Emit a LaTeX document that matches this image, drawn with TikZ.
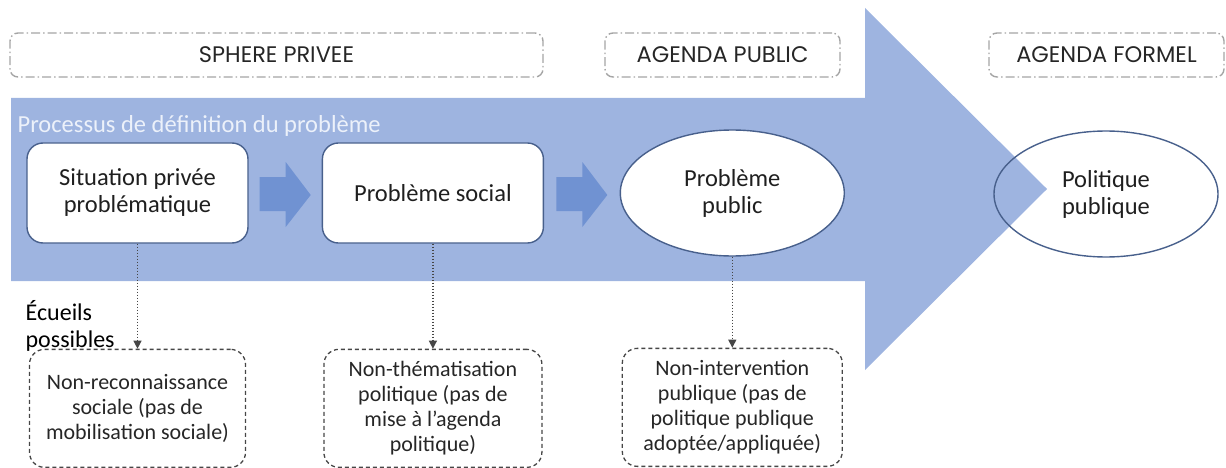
\documentclass[tikz,border=0pt]{standalone}
\usepackage{fontspec}
\setmainfont{Carlito}
\newfontfamily\headfont{Poppins}
\usetikzlibrary{arrows.meta,positioning,calc,shapes.geometric}
\definecolor{flowblue}{RGB}{158,180,224}
\definecolor{stepblue}{RGB}{112,146,210}
\definecolor{edgeblue}{RGB}{72,96,140}
\definecolor{headgray}{RGB}{165,165,165}
\definecolor{inkgray}{RGB}{70,70,70}
\definecolor{procwhite}{RGB}{236,241,250}
\tikzset{every picture/.style={line width=1.3pt}}
\tikzset{
  phase/.style={draw=headgray, line width=1.4pt, rounded corners=8pt,
    dash pattern=on 9pt off 3pt on 1.5pt off 3pt, minimum height=44pt,
    inner sep=0pt, text=black!85, font=\headfont\fontsize{22.5}{26}\selectfont},
  stagebox/.style={draw=edgeblue, fill=white, line width=1.4pt, rounded corners=16pt,
    minimum width=221pt, minimum height=100pt, align=center, text=black!88,
    font=\fontsize{24.5}{27}\selectfont},
  stageoval/.style={ellipse, draw=edgeblue, line width=1.4pt, minimum width=224pt,
    minimum height=126pt, inner sep=0pt, align=center, text=black!88,
    font=\fontsize{24.5}{27}\selectfont},
  pitfall/.style={draw=inkgray, line width=1.3pt, rounded corners=15pt,
    dash pattern=on 4pt off 3pt, minimum height=118pt, align=center,
    text=black!85, font=\fontsize{22}{25}\selectfont},
  pitline/.style={draw=inkgray, line width=1.2pt, dash pattern=on 1.5pt off 1.5pt,
    -{Triangle[width=8pt,length=8pt]}}
}

\begin{document}
\begin{tikzpicture}[x=1pt,y=-1pt]
    \useasboundingbox (0,0) rectangle (1226,468);

    % Big process arrow (background)
    \fill[flowblue] (11,98) -- (865,98) -- (865,8) -- (1047,189)
        -- (865,370) -- (865,281) -- (11,281) -- cycle;

    % Phase labels on top
    \node[phase, minimum width=533pt] (prive) at (276.5,55) {SPHERE PRIVEE};
    \node[phase, minimum width=235pt] (public) at (722.5,55) {AGENDA PUBLIC};
    \node[phase, minimum width=235pt] (formel) at (1106.5,55) {AGENDA FORMEL};

    \node[anchor=base west, inner sep=0pt, text=procwhite,
        font=\fontsize{24.5}{28}\selectfont] (proc) at (17,133)
        {Processus de définition du problème};

    % Stages of the problem
    \node[stagebox] (sit) at (137.5,193) {Situation privée\\problématique};
    \node[stagebox, right=73pt of sit] (soc) {Problème social};
    \node[stageoval, fill=white, right=75.5pt of soc] (pub) {Problème\\public};
    \node[stageoval] (pol) at (1106,194) {Politique\\publique};

    % Small arrows between the stages
    \foreach \a/\b in {sit/soc,soc/pub}
        \fill[stepblue, shift={($(\a.east)!0.5!(\b.west)$)}] (-25.5,-16) -- (0.5,-16)
            -- (0.5,-31) -- (25.5,2) -- (0.5,34) -- (0.5,18) -- (-25.5,18) -- cycle;

    % Possible pitfalls
    \node[anchor=south west, inner sep=0pt, align=left,
        font=\fontsize{24}{27}\selectfont] (ecueils) at (25,352) {Écueils\\possibles};
    \node[pitfall, minimum width=216pt, below=105pt of sit] (nonrec)
        {Non-reconnaissance\\sociale (pas de\\mobilisation sociale)};
    \node[pitfall, minimum width=218pt, below=105pt of soc] (nonthem)
        {Non-thématisation\\politique (pas de\\mise à l’agenda\\politique)};
    \node[pitfall, minimum width=220pt, below=91pt of pub] (noninter)
        {Non-intervention\\publique (pas de\\politique publique\\adoptée/appliquée)};

    \draw[pitline] (sit) -- (nonrec);
    \draw[pitline] (soc) -- (nonthem);
    \draw[pitline] (pub) -- (noninter);
\end{tikzpicture}
\end{document}
